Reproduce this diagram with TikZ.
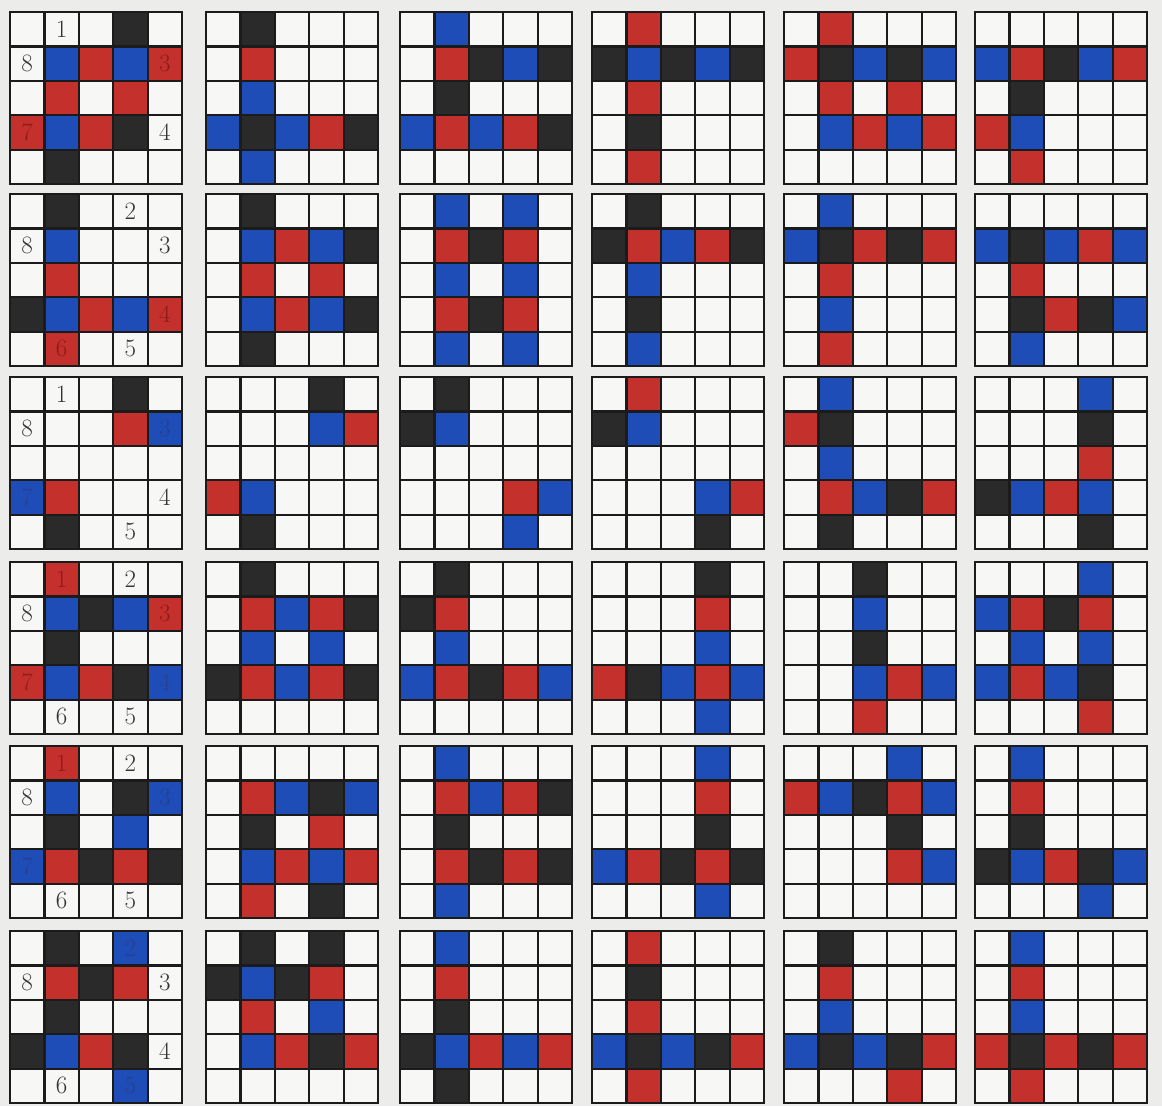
\documentclass[tikz,border=0pt]{standalone}
\usepackage{xcolor}
\definecolor{bgcol}{HTML}{ECECEA}
\definecolor{cW}{HTML}{F7F7F5}
\definecolor{cK}{HTML}{2A2A2A}
\definecolor{cR}{HTML}{C4302B}
\definecolor{cB}{HTML}{1E4DB7}
\definecolor{lineK}{HTML}{1B1B1B}
\definecolor{tW}{HTML}{333333}
\definecolor{tR}{HTML}{8E1C1A}
\definecolor{tB}{HTML}{2A3F8F}
\newcommand\cellsz{34.4}
\tikzset{
  gridline/.style={draw=lineK, line width=2.2pt, line cap=rect},
  numlabel/.style={inner sep=0pt, font=\fontsize{25}{25}\selectfont}
}
\newcommand\drawboard[7]{%
  \begin{scope}[shift={(#1,#2)}]
    \foreach \rowlist [count=\r from 0] in {{#3},{#4},{#5},{#6},{#7}}{
      \foreach \c [count=\k from 0] in \rowlist {
        \fill[fill=c\c] ({\k*\cellsz},{\r*\cellsz}) rectangle ++(\cellsz,\cellsz);
      }
    }
    \foreach \i in {0,...,5}{
      \draw[gridline] ({\i*\cellsz},0) -- ({\i*\cellsz},{5*\cellsz});
      \draw[gridline] (0,{\i*\cellsz}) -- ({5*\cellsz},{\i*\cellsz});
    }
  \end{scope}}
% name, board x, board y, col, row, colour, text
\newcommand\boardlabel[7]{%
  \node[numlabel, text=#6] (#1) at ({#2+(#4+0.5)*\cellsz},{#3+(#5+0.5)*\cellsz}) {#7};}
\begin{document}
\begin{tikzpicture}[x=1pt,y=-1pt]
\fill[bgcol] (0,0) rectangle (1162,1106);
\useasboundingbox (0,0) rectangle (1162,1106);
% ---- row 1 ----
\drawboard{10}{12}{W,W,W,K,W}{W,B,R,B,R}{W,R,W,R,W}{R,B,R,K,W}{W,K,W,W,W}
\drawboard{206}{12}{W,K,W,W,W}{W,R,W,W,W}{W,B,W,W,W}{B,K,B,R,K}{W,B,W,W,W}
\drawboard{400}{12}{W,B,W,W,W}{W,R,K,B,K}{W,K,W,W,W}{B,R,B,R,K}{W,W,W,W,W}
\drawboard{592}{12}{W,R,W,W,W}{K,B,K,B,K}{W,R,W,W,W}{W,K,W,W,W}{W,R,W,W,W}
\drawboard{784}{12}{W,R,W,W,W}{R,K,B,K,B}{W,R,W,R,W}{W,B,R,B,R}{W,W,W,W,W}
\drawboard{975}{12}{W,W,W,W,W}{B,R,K,B,R}{W,K,W,W,W}{R,B,W,W,W}{W,R,W,W,W}
% ---- row 2 ----
\drawboard{10}{194}{W,K,W,W,W}{W,B,W,W,W}{W,R,W,W,W}{K,B,R,B,R}{W,R,W,W,W}
\drawboard{206}{194}{W,K,W,W,W}{W,B,R,B,K}{W,R,W,R,W}{W,B,R,B,K}{W,K,W,W,W}
\drawboard{400}{194}{W,B,W,B,W}{W,R,K,R,W}{W,B,W,B,W}{W,R,K,R,W}{W,B,W,B,W}
\drawboard{592}{194}{W,K,W,W,W}{K,R,B,R,K}{W,B,W,W,W}{W,K,W,W,W}{W,B,W,W,W}
\drawboard{784}{194}{W,B,W,W,W}{B,K,R,K,R}{W,R,W,W,W}{W,B,W,W,W}{W,R,W,W,W}
\drawboard{975}{194}{W,W,W,W,W}{B,K,B,R,B}{W,R,W,W,W}{W,K,R,K,B}{W,B,W,W,W}
% ---- row 3 ----
\drawboard{10}{377}{W,W,W,K,W}{W,W,W,R,B}{W,W,W,W,W}{B,R,W,W,W}{W,K,W,W,W}
\drawboard{206}{377}{W,W,W,K,W}{W,W,W,B,R}{W,W,W,W,W}{R,B,W,W,W}{W,K,W,W,W}
\drawboard{400}{377}{W,K,W,W,W}{K,B,W,W,W}{W,W,W,W,W}{W,W,W,R,B}{W,W,W,B,W}
\drawboard{592}{377}{W,R,W,W,W}{K,B,W,W,W}{W,W,W,W,W}{W,W,W,B,R}{W,W,W,K,W}
\drawboard{784}{377}{W,B,W,W,W}{R,K,W,W,W}{W,B,W,W,W}{W,R,B,K,R}{W,K,W,W,W}
\drawboard{975}{377}{W,W,W,B,W}{W,W,W,K,W}{W,W,W,R,W}{K,B,R,B,W}{W,W,W,K,W}
% ---- row 4 ----
\drawboard{10}{562}{W,R,W,W,W}{W,B,K,B,R}{W,K,W,W,W}{R,B,R,K,B}{W,W,W,W,W}
\drawboard{206}{562}{W,K,W,W,W}{W,R,B,R,K}{W,B,W,B,W}{K,R,B,R,K}{W,W,W,W,W}
\drawboard{400}{562}{W,K,W,W,W}{K,R,W,W,W}{W,B,W,W,W}{B,R,K,R,B}{W,W,W,W,W}
\drawboard{592}{562}{W,W,W,K,W}{W,W,W,R,W}{W,W,W,B,W}{R,K,B,R,B}{W,W,W,B,W}
\drawboard{784}{562}{W,W,K,W,W}{W,W,B,W,W}{W,W,K,W,W}{W,W,B,R,B}{W,W,R,W,W}
\drawboard{975}{562}{W,W,W,B,W}{B,R,K,R,W}{W,B,W,B,W}{B,R,B,K,W}{W,W,W,R,W}
% ---- row 5 ----
\drawboard{10}{746}{W,R,W,W,W}{W,B,W,K,B}{W,K,W,B,W}{B,R,K,R,K}{W,W,W,W,W}
\drawboard{206}{746}{W,W,W,W,W}{W,R,B,K,B}{W,K,W,R,W}{W,B,R,B,R}{W,R,W,K,W}
\drawboard{400}{746}{W,B,W,W,W}{W,R,B,R,K}{W,K,W,W,W}{W,R,K,R,K}{W,B,W,W,W}
\drawboard{592}{746}{W,W,W,B,W}{W,W,W,R,W}{W,W,W,K,W}{B,R,K,R,K}{W,W,W,B,W}
\drawboard{784}{746}{W,W,W,B,W}{R,B,K,R,B}{W,W,W,K,W}{W,W,W,R,B}{W,W,W,W,W}
\drawboard{975}{746}{W,B,W,W,W}{W,R,W,W,W}{W,K,W,W,W}{K,B,R,K,B}{W,W,W,B,W}
% ---- row 6 ----
\drawboard{10}{931}{W,K,W,B,W}{W,R,K,R,W}{W,K,W,W,W}{K,B,R,K,W}{W,W,W,B,W}
\drawboard{206}{931}{W,K,W,K,W}{K,B,K,R,W}{W,R,W,B,W}{W,B,R,K,R}{W,W,W,W,W}
\drawboard{400}{931}{W,B,W,W,W}{W,R,W,W,W}{W,K,W,W,W}{K,B,R,B,R}{W,K,W,W,W}
\drawboard{592}{931}{W,R,W,W,W}{W,K,W,W,W}{W,R,W,W,W}{B,K,B,K,R}{W,R,W,W,W}
\drawboard{784}{931}{W,K,W,W,W}{W,R,W,W,W}{W,B,W,W,W}{B,K,B,K,R}{W,W,W,R,W}
\drawboard{975}{931}{W,B,W,W,W}{W,R,W,W,W}{W,B,W,W,W}{R,K,R,K,R}{W,R,W,W,W}
% ---- labels ----
\boardlabel{a1}{10}{12}{1}{0}{tW}{1}
\boardlabel{a8}{10}{12}{0}{1}{tW}{8}
\boardlabel{a3}{10}{12}{4}{1}{tR}{3}
\boardlabel{a7}{10}{12}{0}{3}{tR}{7}
\boardlabel{a4}{10}{12}{4}{3}{tW}{4}
\boardlabel{b2}{10}{194}{3}{0}{tW}{2}
\boardlabel{b8}{10}{194}{0}{1}{tW}{8}
\boardlabel{b3}{10}{194}{4}{1}{tW}{3}
\boardlabel{b4}{10}{194}{4}{3}{tR}{4}
\boardlabel{b6}{10}{194}{1}{4}{tR}{6}
\boardlabel{b5}{10}{194}{3}{4}{tW}{5}
\boardlabel{c1}{10}{377}{1}{0}{tW}{1}
\boardlabel{c8}{10}{377}{0}{1}{tW}{8}
\boardlabel{c3}{10}{377}{4}{1}{tB}{3}
\boardlabel{c7}{10}{377}{0}{3}{tB}{7}
\boardlabel{c4}{10}{377}{4}{3}{tW}{4}
\boardlabel{c5}{10}{377}{3}{4}{tW}{5}
\boardlabel{d1}{10}{562}{1}{0}{tR}{1}
\boardlabel{d2}{10}{562}{3}{0}{tW}{2}
\boardlabel{d8}{10}{562}{0}{1}{tW}{8}
\boardlabel{d3}{10}{562}{4}{1}{tR}{3}
\boardlabel{d7}{10}{562}{0}{3}{tR}{7}
\boardlabel{d4}{10}{562}{4}{3}{tB}{4}
\boardlabel{d6}{10}{562}{1}{4}{tW}{6}
\boardlabel{d5}{10}{562}{3}{4}{tW}{5}
\boardlabel{e1}{10}{746}{1}{0}{tR}{1}
\boardlabel{e2}{10}{746}{3}{0}{tW}{2}
\boardlabel{e8}{10}{746}{0}{1}{tW}{8}
\boardlabel{e3}{10}{746}{4}{1}{tB}{3}
\boardlabel{e7}{10}{746}{0}{3}{tB}{7}
\boardlabel{e6}{10}{746}{1}{4}{tW}{6}
\boardlabel{e5}{10}{746}{3}{4}{tW}{5}
\boardlabel{f2}{10}{931}{3}{0}{tB}{2}
\boardlabel{f8}{10}{931}{0}{1}{tW}{8}
\boardlabel{f3}{10}{931}{4}{1}{tW}{3}
\boardlabel{f4}{10}{931}{4}{3}{tW}{4}
\boardlabel{f6}{10}{931}{1}{4}{tW}{6}
\boardlabel{f5}{10}{931}{3}{4}{tB}{5}
\end{tikzpicture}
\end{document}
